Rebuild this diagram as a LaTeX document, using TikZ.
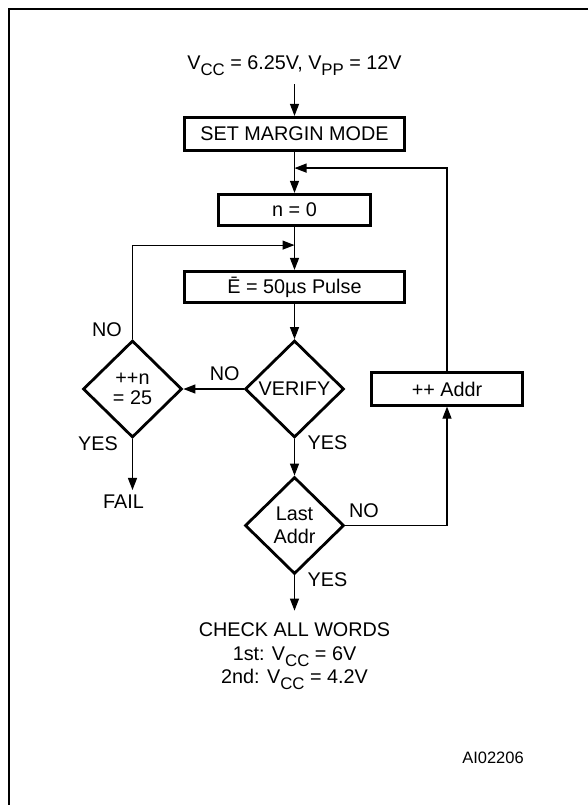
\documentclass[tikz,border=0pt]{standalone}
\usepackage{fontspec}
\setmainfont{Liberation Sans}
\usetikzlibrary{positioning,shapes.geometric,arrows.meta}
\newcommand{\lowsub}[1]{\raisebox{-6pt}{\fontsize{16.8}{16.8}\selectfont #1}}

\begin{document}
\begin{tikzpicture}[x=1pt,y=-1pt,
    every node/.style={on grid,inner sep=0pt,font=\fontsize{19.8}{23.5}\selectfont},
    >={Triangle[length=12pt,width=9pt]},
    box/.style={draw,line width=2.8pt},
    test/.style={draw,diamond,line width=2.8pt,minimum width=99pt,minimum height=97pt,align=center},
    flow/.style={->,line width=1.2pt},
    tag/.style={anchor=center}]
  \useasboundingbox (0,0) rectangle (587,805);
  % frame, cut by the page
  \draw[line width=2pt] (9,830) -- (9,9) -- (610,9);

  \node (vcc) at (294.5,66) {V\lowsub{CC} = 6.25V, V\lowsub{PP} = 12V};
  \node[box,minimum width=220.4pt,minimum height=33.4pt,below=68pt of vcc] (set) {SET MARGIN MODE};
  \node[box,minimum width=152.4pt,minimum height=31.4pt,below=76pt of set] (n0) {n = 0};
  \node[box,minimum width=219.4pt,minimum height=31.4pt,below=77pt of n0] (pulse) {Ē = 50µs Pulse};
  \node[test,below=102pt of pulse] (verify) {VERIFY};
  \node[test,left=162pt of verify] (incn) {++n\\[-3.5pt]= 25};
  \node[box,minimum width=151.4pt,minimum height=32.4pt,right=152.5pt of verify] (addr) {++ Addr};
  \node[test,below=136.5pt of verify] (last) {Last\\Addr};
  \node[align=center,below=130.8pt of last] (check) {CHECK ALL WORDS\\1st: V\lowsub{CC} = 6V\\2nd: V\lowsub{CC} = 4.2V};
  \node[below left=113pt and 9pt of incn] (fail) {FAIL};
  \node[font=\fontsize{16.5}{18}\selectfont] (code) at (493,758) {AI02206};

  \coordinate[below=16pt of set.south] (joinA);
  \coordinate[below=18pt of n0.south] (joinB);

  \draw[flow,shorten <=8pt] (vcc) -- (set);
  \draw[flow] (set) -- (n0);
  \draw[flow] (addr.north) |- (joinA);
  \draw[flow] (n0) -- (pulse);
  \draw[flow] (incn.north) |- (joinB);
  \draw[flow] (pulse) -- (verify);
  \draw[flow] (verify.west) -- (incn.east);
  \draw[flow] (verify) -- (last);
  \draw[flow] (last.east) -| (addr.south);
  \draw[flow,shorten >=5pt] (incn.south) -- (incn.south |- fail.north);
  \draw[flow,shorten >=12pt] (last) -- (check);

  \node[above left=15.5pt and 19pt of verify.west,tag] {NO};
  \node[below right=4pt and 33pt of verify.south,tag] {YES};
  \node[above left=9pt and 25.5pt of incn.north,tag] {NO};
  \node[below left=4.5pt and 34.5pt of incn.south,tag] {YES};
  \node[above right=15pt and 18.5pt of last.east,tag] {NO};
  \node[below right=4.5pt and 33pt of last.south,tag] {YES};
\end{tikzpicture}
\end{document}
